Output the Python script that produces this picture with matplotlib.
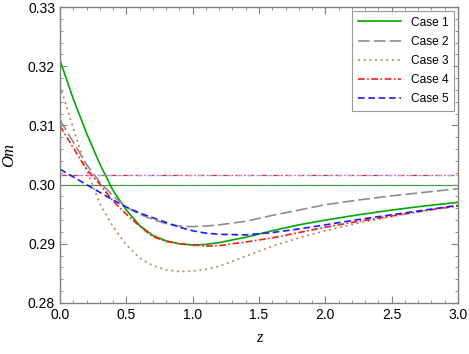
#!/usr/bin/env python3
"""Om(z) for five cases, with the two reference levels."""

import matplotlib
matplotlib.use("Agg")
import matplotlib.pyplot as plt
from matplotlib.ticker import MultipleLocator

plt.rcParams["font.family"] = ["Liberation Sans", "DejaVu Sans"]

z = [0.0, 0.1, 0.2, 0.3, 0.4, 0.5, 0.6, 0.7, 0.8, 0.9, 1.0, 1.1, 1.2,
     1.4, 1.6, 1.8, 2.0, 2.25, 2.5, 2.75, 3.0]

case1 = [0.3210, 0.3145, 0.3087, 0.3035, 0.2990, 0.2957, 0.2931, 0.2914, 0.2905,
         0.2900, 0.2898, 0.2899, 0.2902, 0.2911, 0.2922, 0.2932, 0.2940, 0.2949,
         0.2957, 0.2964, 0.2970]
case2 = [0.3109, 0.3072, 0.3034, 0.3004, 0.2981, 0.2962, 0.2950, 0.2941, 0.2934,
         0.2930, 0.2929, 0.2930, 0.2932, 0.2938, 0.2948, 0.2957, 0.2966, 0.2974,
         0.2981, 0.2987, 0.2993]
case3 = [0.3167, 0.3095, 0.3025, 0.2968, 0.2929, 0.2898, 0.2876, 0.2863, 0.2856,
         0.2853, 0.2854, 0.2857, 0.2862, 0.2879, 0.2896, 0.2910, 0.2922, 0.2935,
         0.2946, 0.2956, 0.2964]
case4 = [0.3099, 0.3062, 0.3026, 0.3001, 0.2972, 0.2950, 0.2930, 0.2912, 0.2904,
         0.2900, 0.2898, 0.2896, 0.2897, 0.2903, 0.2910, 0.2919, 0.2928, 0.2938,
         0.2947, 0.2956, 0.2964]
case5 = [0.3026, 0.3013, 0.3000, 0.2987, 0.2974, 0.2962, 0.2952, 0.2944, 0.2936,
         0.2928, 0.2922, 0.2918, 0.2916, 0.2915, 0.2919, 0.2925, 0.2932, 0.2941,
         0.2949, 0.2957, 0.2965]

level_a = 0.3000
level_b = 0.3016

labels = ["Case 1", "Case 2", "Case 3", "Case 4", "Case 5"]
styles = [
    dict(color="#00a800", linestyle="-"),
    dict(color="#8c8c8c", linestyle=(0, (7, 2.5))),
    dict(color="#b8845a", linestyle=(0, (1.2, 2.2))),
    dict(color="#ff1a1a", linestyle=(0, (4, 1.5, 1, 1.5))),
    dict(color="#1a1aff", linestyle=(0, (4, 2.2))),
]

fig = plt.figure(figsize=(4.69, 3.54), dpi=100)
ax = fig.add_axes([0.1279, 0.1441, 0.8486, 0.8361])

# reference levels
ax.axhline(level_a, color="#00a800", lw=0.8, zorder=1)
ax.axhline(level_a, color="#999999", lw=0.8, linestyle=(0, (1, 2)), zorder=1)
ax.axhline(level_b, color="#ff2020", lw=0.9, linestyle=(0, (5, 2, 1, 2)), zorder=1)
ax.axhline(level_b, color="#9aa4ff", lw=0.9, linestyle=(2.5, (4, 4)), zorder=1)

for ys, lab, st in zip([case1, case2, case3, case4, case5], labels, styles):
    ax.plot(z, ys, lw=1.2, label=lab, **st)

ax.set_xlim(0, 3)
ax.set_ylim(0.28, 0.33)
ax.xaxis.set_major_locator(MultipleLocator(0.5))
ax.xaxis.set_minor_locator(MultipleLocator(0.1))
ax.yaxis.set_major_locator(MultipleLocator(0.01))
ax.yaxis.set_minor_locator(MultipleLocator(0.002))
ax.xaxis.set_major_formatter(plt.FormatStrFormatter("%.1f"))
ax.yaxis.set_major_formatter(plt.FormatStrFormatter("%.2f"))

ax.tick_params(which="both", direction="in", top=True, right=True,
               color="#808080", labelsize=10, labelcolor="black")
ax.tick_params(which="major", length=5, width=0.8)
ax.tick_params(which="minor", length=2.5, width=0.6)
for sp in ax.spines.values():
    sp.set_color("#808080")
    sp.set_linewidth(1.0)

ax.set_xlabel("z", family=["Liberation Serif"], style="italic", fontsize=12, labelpad=6)
ax.set_ylabel("Om", family=["Liberation Serif"], style="italic", fontsize=12, labelpad=8)

leg = ax.legend(loc="upper right", fontsize=8.6, frameon=True, fancybox=False,
                edgecolor="#808080", handlelength=3.6, borderaxespad=0.3,
                labelspacing=0.6, borderpad=0.5)
leg.get_frame().set_linewidth(0.8)

fig.savefig("out.png", dpi=100)
